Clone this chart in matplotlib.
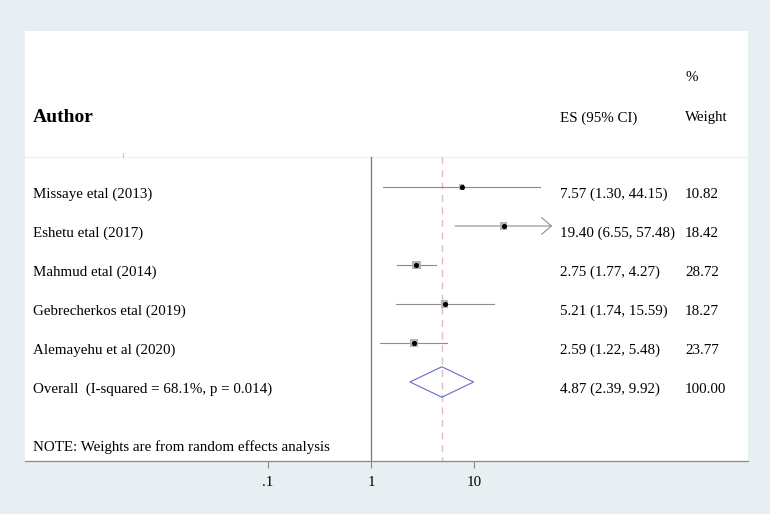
import numpy as np
import matplotlib.pyplot as plt
from matplotlib.patches import Polygon
import matplotlib.transforms as mtransforms

plt.rcParams['font.family'] = ['Liberation Serif', 'DejaVu Serif']

# Study data
studies = ['Missaye etal (2013)', 'Eshetu etal (2017)', 'Mahmud etal (2014)',
           'Gebrecherkos etal (2019)', 'Alemayehu et al (2020)']
es = [7.57, 19.40, 2.75, 5.21, 2.59]
lo = [1.30, 6.55, 1.77, 1.74, 1.22]
hi = [44.15, 57.48, 4.27, 15.59, 5.48]
weights = [10.82, 18.42, 28.72, 18.27, 23.77]

overall_label = 'Overall  (I-squared = 68.1%, p = 0.014)'
overall_es, overall_lo, overall_hi = 4.87, 2.39, 9.92
overall_weight = 100.00
note = 'NOTE: Weights are from random effects analysis'

xticks = [0.1, 1, 10]
xticklabels = ['.1', '1', '10']

W, H = 770, 514
fig = plt.figure(figsize=(W / 100, H / 100), dpi=100, facecolor='#e8eff2')
ax = fig.add_axes([25 / W, (H - 461) / H, 723 / W, (461 - 31) / H])
ax.set_facecolor('white')

ax.set_xscale('log')
ax.set_xlim(10 ** (-346 / 103), 10 ** (377 / 103))
ax.set_ylim(7.026, -4.0)

gray = '#8c8c8c'
# faint header separator
ax.axhline(-0.77, color='#f0f0f0', lw=1.0, zorder=0)
ax.plot([0.0039, 0.0039], [-0.88, -0.77], color='#c8c8c8', lw=0.8, zorder=1)
# reference lines
ax.plot([1, 1], [-0.77, 7.1], color='#777777', lw=0.9, zorder=1)
ax.plot([overall_es, overall_es], [-0.77, 7.1], color='#e5bcbc', lw=1.0,
        ls=(0, (5, 4)), zorder=1)

rows = np.arange(len(studies))
for i in rows:
    if hi[i] > 50:
        ax.annotate('', xy=(hi[i], i), xytext=(lo[i], i),
                    arrowprops=dict(arrowstyle='->,head_length=0.7,head_width=0.6',
                                    color=gray, lw=0.8, shrinkA=0, shrinkB=0))
    else:
        ax.plot([lo[i], hi[i]], [i, i], color=gray, lw=0.8, zorder=2)

ax.scatter(es, rows, marker='s', s=[1.4 * w for w in weights],
           color='#b4b4b4', linewidths=0, zorder=3)
ax.scatter(es, rows, marker='o', s=7, color='black', zorder=4)

# overall diamond
yo = len(studies)
dh = 0.39
diamond = Polygon([(overall_lo, yo), (overall_es, yo - dh), (overall_hi, yo),
                   (overall_es, yo + dh)], closed=True, fill=False,
                  edgecolor='#6a6ac8', lw=0.8, zorder=3)
ax.add_patch(diamond)

# text columns
trans = mtransforms.blended_transform_factory(ax.transAxes, ax.transData)
fs = 10.8
dy = 0.18
x_lab, x_es, x_w = 8 / 723, 535 / 723, 660 / 723
ax.text(x_lab, -1.77, 'Author', transform=trans, fontsize=14,
        fontweight='bold', va='center')
ax.text(x_es, -1.77, 'ES (95% CI)', transform=trans, fontsize=fs, va='center')
ax.text(x_w, -2.82, '%', transform=trans, fontsize=fs, va='center')
ax.text(x_w, -1.77, 'Weight', transform=trans, fontsize=fs, va='center')

for i in rows:
    ax.text(x_lab, i + dy, studies[i], transform=trans, fontsize=fs, va='center')
    ax.text(x_es, i + dy, f'{es[i]:.2f} ({lo[i]:.2f}, {hi[i]:.2f})',
            transform=trans, fontsize=fs, va='center')
    ax.text(x_w, i + dy, f'{weights[i]:.2f}', transform=trans, fontsize=fs,
            va='center')

ax.text(x_lab, yo + dy, overall_label, transform=trans, fontsize=fs, va='center')
ax.text(x_es, yo + dy, f'{overall_es:.2f} ({overall_lo:.2f}, {overall_hi:.2f})',
        transform=trans, fontsize=fs, va='center')
ax.text(x_w, yo + dy, f'{overall_weight:.2f}', transform=trans, fontsize=fs,
        va='center')
ax.text(x_lab, 6.5 + dy, note, transform=trans, fontsize=fs, va='center')

# axis styling
for side in ['top', 'left', 'right']:
    ax.spines[side].set_visible(False)
ax.spines['bottom'].set_color('#888888')
ax.spines['bottom'].set_linewidth(0.9)
ax.set_yticks([])
ax.set_xticks(xticks)
ax.set_xticklabels(xticklabels)
ax.xaxis.set_minor_locator(plt.NullLocator())
ax.tick_params(axis='x', direction='out', length=5, color='#888888',
               labelsize=fs, pad=6)

fig.savefig('out.png', dpi=100, facecolor=fig.get_facecolor())
